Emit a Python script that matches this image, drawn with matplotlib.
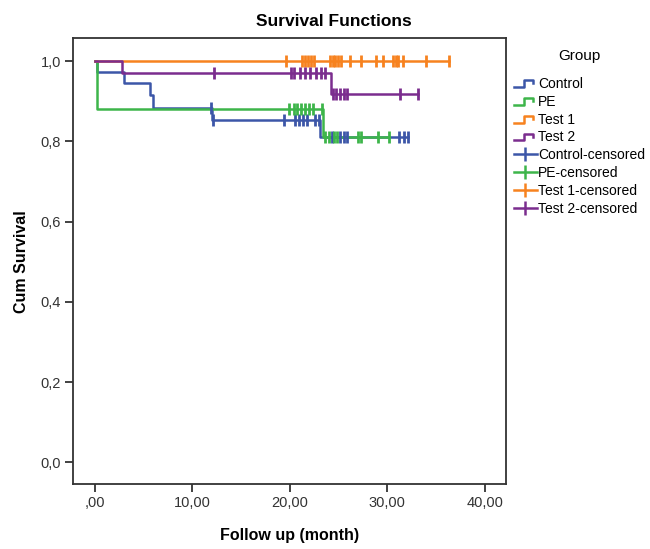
import matplotlib
matplotlib.use("Agg")
import matplotlib.pyplot as plt
import numpy as np
from matplotlib.lines import Line2D
from matplotlib.legend_handler import HandlerBase

plt.rcParams['font.family'] = ['Liberation Sans', 'DejaVu Sans']

groups = ["Control", "PE", "Test 1", "Test 2"]
colors = ["#3C56A8", "#3DB54A", "#F7821F", "#7B2D8E"]

# step times (events) and survival after each step
control_t = [0, 0.2, 3.0, 5.7, 6.0, 12.0, 23.1]
control_s = [1.0, 0.973, 0.945, 0.916, 0.884, 0.854, 0.812]
pe_t = [0, 0.2, 23.4]
pe_s = [1.0, 0.881, 0.812]
test1_t = [0]
test1_s = [1.0]
test2_t = [0, 2.8, 24.2]
test2_s = [1.0, 0.970, 0.918]

# censored follow-up times
control_c = [11.9, 12.1, 19.4, 20.6, 21.0, 21.4, 21.8, 22.6, 23.0,
             24.3, 25.2, 25.6, 25.9, 31.2, 31.7, 32.1]
pe_c = [19.9, 20.4, 20.8, 21.2, 21.6, 22.0, 22.4, 23.3,
        23.6, 24.0, 24.5, 24.9, 27.0, 27.3, 29.1, 30.2]
test1_c = [19.6, 21.3, 21.6, 21.9, 22.2, 22.5, 24.1, 24.4, 24.7, 25.0, 25.3,
           26.2, 27.3, 28.9, 29.6, 30.6, 30.9, 31.1, 31.6, 34.0, 36.3]
test2_c = [12.2, 20.1, 20.4, 21.1, 21.6, 22.1, 22.7, 23.2, 23.6,
           24.4, 24.8, 25.2, 25.6, 25.9, 31.3, 33.2]

steps = [(control_t, control_s), (pe_t, pe_s), (test1_t, test1_s), (test2_t, test2_s)]
censored = [control_c, pe_c, test1_c, test2_c]


class StepHandler(HandlerBase):
    def create_artists(self, legend, orig_handle, xdescent, ydescent,
                       width, height, fontsize, trans):
        x0 = -xdescent
        y0 = -ydescent
        xs = [x0, x0 + width * 0.45, x0 + width * 0.45, x0 + width * 0.85, x0 + width * 0.85]
        ys = [y0 + height * 0.1, y0 + height * 0.1, y0 + height * 0.8,
              y0 + height * 0.8, y0 + height * 0.45]
        ln = Line2D(xs, ys, color=orig_handle.get_color(), lw=1.8, transform=trans)
        return [ln]


fig = plt.figure(figsize=(6.5, 5.49), dpi=100)
ax = fig.add_axes([0.1118, 0.1184, 0.6667, 0.8118])

for (t, s), c_times, col in zip(steps, censored, colors):
    t = np.array(t)
    s = np.array(s)
    end = max(c_times)
    xs = np.append(t, end)
    ys = np.append(s, s[-1])
    ax.step(xs, ys, where='post', color=col, lw=1.8)

for (t, s), c_times, col in zip(steps, censored, colors):
    idx = np.searchsorted(np.array(t), np.array(c_times), side='right') - 1
    lev = np.array(s)[idx]
    ax.plot(c_times, lev, ls='none', marker='|', ms=8, mew=2, color=col)

ax.set_xlim(-2.26, 42.2)
ax.set_ylim(-0.054, 1.057)
ax.set_xticks([0, 10, 20, 30, 40])
ax.set_xticklabels([",00", "10,00", "20,00", "30,00", "40,00"])
ax.set_yticks([0, 0.2, 0.4, 0.6, 0.8, 1.0])
ax.set_yticklabels(["0,0", "0,2", "0,4", "0,6", "0,8", "1,0"])
ax.tick_params(direction='out', length=5.5, width=1.3, labelsize=10.5,
               colors='#333333', pad=3)
for sp in ax.spines.values():
    sp.set_linewidth(1.3)
    sp.set_color('#333333')

ax.set_xlabel("Follow up (month)", fontsize=11.5, fontweight='bold', labelpad=13)
ax.set_ylabel("Cum Survival", fontsize=11.5, fontweight='bold', labelpad=8)
fig.text(0.514, 0.96, "Survival Functions", ha='center', va='center',
         fontsize=12.5, fontweight='bold')

handles = [Line2D([], [], color=c) for c in colors]
handles += [Line2D([], [], color=c, lw=1.8, marker='|', ms=10, mew=1.8) for c in colors]
labels = groups + [g + "-censored" for g in groups]
hmap = {h: StepHandler() for h in handles[:4]}
fig.text(0.892, 0.898, "Group", ha='center', va='center', fontsize=11)
leg = fig.legend(handles, labels, loc='upper left', bbox_to_anchor=(0.772, 0.883),
                 frameon=False, fontsize=10,
                 handlelength=1.6, handletextpad=0.1, labelspacing=0.28,
                 handler_map=hmap)

fig.savefig("out.png", dpi=100, facecolor='white')
